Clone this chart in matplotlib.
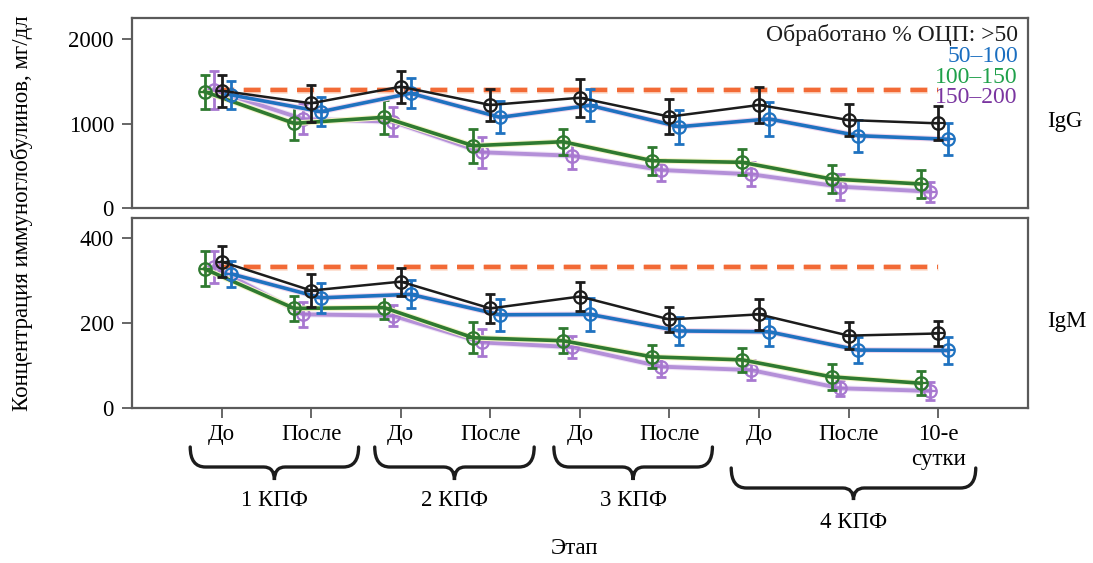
import numpy as np
import matplotlib
matplotlib.use("Agg")
import matplotlib.pyplot as plt
import matplotlib.patheffects as pe
from matplotlib.path import Path
from matplotlib.patches import PathPatch
from matplotlib.transforms import blended_transform_factory

plt.rcParams["font.family"] = ["Liberation Serif", "DejaVu Serif"]

# stages on the x axis
stage_labels = ["До", "После", "До", "После", "До", "После", "До", "После", "10-е\nсутки"]
stage_x = np.arange(1, 10)

# series: processed % of circulating plasma volume
series_names = [">50", "50–100", "100–150", "150–200"]

igg_gt50 = [1388, 1240, 1436, 1220, 1305, 1082, 1220, 1042, 1003]
igg_50_100 = [1338, 1141, 1358, 1074, 1215, 963, 1055, 857, 815]
igg_100_150 = [1377, 1003, 1074, 739, 786, 562, 543, 346, 287]
igg_150_200 = [1397, 1054, 1023, 661, 621, 452, 402, 255, 196]

igg_err_gt50 = [190, 220, 190, 190, 225, 210, 210, 190, 200]
igg_err_50_100 = [170, 175, 175, 190, 190, 200, 200, 190, 190]
igg_err_100_150 = [200, 200, 200, 200, 155, 165, 155, 165, 165]
igg_err_150_200 = [230, 175, 175, 180, 155, 130, 140, 155, 120]

igm_gt50 = [345, 277, 298, 235, 263, 209, 221, 171, 176]
igm_50_100 = [316, 260, 268, 220, 221, 182, 180, 137, 136]
igm_100_150 = [328, 235, 237, 166, 159, 121, 114, 74, 59]
igm_150_200 = [333, 221, 218, 155, 144, 98, 90, 47, 41]

igm_err_gt50 = [36, 39, 33, 35, 35, 30, 36, 32, 29]
igm_err_50_100 = [31, 35, 33, 38, 38, 32, 33, 31, 31]
igm_err_100_150 = [41, 30, 28, 36, 29, 27, 28, 31, 28]
igm_err_150_200 = [38, 30, 25, 31, 26, 24, 24, 19, 21]

igg_ref = 1400
igm_ref = 333

groups = ["1 КПФ", "2 КПФ", "3 КПФ", "4 КПФ"]
group_spans = [(0.65, 2.53), (2.71, 4.49), (4.71, 6.48), (6.69, 9.42)]

# styles: (colour, line colour, halo, x offset, linewidth, zorder)
styles = [
    ("#1c1c1c", "#1c1c1c", None, 0.0, 1.8, 8),
    ("#1f72c0", "#1f72c0", "#f0d4ec", 0.11, 2.6, 7),
    ("#2f7a30", "#2f7a30", "#f4f4c8", -0.19, 2.6, 6),
    ("#a878d0", "#b490d8", "#efe2f6", -0.09, 2.8, 5),
]
legend_colors = ["#1c1c1c", "#1a6ec0", "#1fa04a", "#7a35a0"]

W, H = 1093, 563
fig = plt.figure(figsize=(W / 100, H / 100), dpi=100)
ax1 = fig.add_axes([132 / W, 1 - 208.3 / H, 895.7 / W, 190.3 / H])
ax2 = fig.add_axes([132 / W, 1 - 408.3 / H, 895.7 / W, 190 / H])

spine_col = "#5a5a5a"
fs = 16.5


def draw_panel(ax, data, errs, ref):
    ax.hlines(ref, 0.95, 9.0, colors="#f26a36", lw=3.2,
              linestyles=(0, (3.8, 2.2)), zorder=2,
              path_effects=[pe.Stroke(linewidth=5, foreground="#fde2d4"), pe.Normal()])
    for vals, err, st in zip(data, errs, styles):
        col, lcol, halo, dx, lw, z = st
        xs = stage_x + dx
        peff = [pe.Stroke(linewidth=lw + 1.5, foreground=halo), pe.Normal()] if halo else None
        ax.plot(xs, vals, color=lcol, lw=lw, zorder=z, path_effects=peff)
        ax.errorbar(xs, vals, yerr=err, fmt="none", ecolor=col, elinewidth=2.0,
                    capsize=3.5, capthick=2.0, zorder=z)
        ax.plot(xs, vals, "o", ms=9, mfc="none", mec=col, mew=1.6, zorder=z + 0.1)
        ax.plot(xs, vals, "_", ms=9, mec=col, mew=1.6, zorder=z + 0.1)
    for s in ax.spines.values():
        s.set_color(spine_col)
        s.set_linewidth(1.6)
    ax.set_xlim(0, 10)
    ax.tick_params(axis="y", direction="out", length=7, width=1.3, color=spine_col,
                   labelsize=fs, pad=6)


draw_panel(ax1, [igg_gt50, igg_50_100, igg_100_150, igg_150_200],
           [igg_err_gt50, igg_err_50_100, igg_err_100_150, igg_err_150_200], igg_ref)
ax1.set_ylim(0, 2247)
ax1.set_yticks([0, 1000, 2000])
ax1.set_xticks([])

draw_panel(ax2, [igm_gt50, igm_50_100, igm_100_150, igm_150_200],
           [igm_err_gt50, igm_err_50_100, igm_err_100_150, igm_err_150_200], igm_ref)
ax2.set_ylim(0, 447)
ax2.set_yticks([0, 200, 400])
ax2.set_xticks(stage_x)
ax2.set_xticklabels(stage_labels, fontsize=fs, linespacing=1.25)
ax2.tick_params(axis="x", direction="out", length=7, width=1.3, color=spine_col, pad=4)

# legend text in the top panel
legend_y = [0.881, 0.770, 0.657, 0.552]
for i, (name, c) in enumerate(zip(series_names, legend_colors)):
    txt = "Обработано % ОЦП: " + name if i == 0 else name
    ax1.text(0.989, legend_y[i], txt, transform=ax1.transAxes, ha="right",
             va="baseline", color=c, fontsize=fs + 0.5, zorder=10)

# panel names
ax1.text(1047 / W, 1 - 122 / H, "IgG", transform=fig.transFigure, ha="left",
         va="center", fontsize=fs)
ax2.text(1047 / W, 1 - 322 / H, "IgM", transform=fig.transFigure, ha="left",
         va="center", fontsize=fs)

# braces under the stage labels
tr = blended_transform_factory(ax2.transData, fig.transFigure)


def brace(x0, x1, ytop, ymid, ytip):
    xc = (x0 + x1) / 2
    r = 0.17
    r2 = 0.12
    yt, ym, yp = 1 - ytop / H, 1 - ymid / H, 1 - ytip / H
    verts = [(x0, yt), (x0, ym), (x0 + r, ym), (xc - r2, ym), (xc, ym), (xc, yp),
             (xc, ym), (xc + r2, ym), (x1 - r, ym), (x1, ym), (x1, yt)]
    codes = [Path.MOVETO, Path.CURVE3, Path.CURVE3, Path.LINETO, Path.CURVE3, Path.CURVE3,
             Path.CURVE3, Path.CURVE3, Path.LINETO, Path.CURVE3, Path.CURVE3]
    p = PathPatch(Path(verts, codes), transform=tr, fill=False, lw=2.4,
                  edgecolor="#1c1c1c", clip_on=False, capstyle="round")
    ax2.add_patch(p)
    return xc


for i, (g, (a, b)) in enumerate(zip(groups, group_spans)):
    if i < 3:
        xc = brace(a, b, 447, 467, 480)
        ax2.text(xc, 1 - 501 / H, g, transform=tr, ha="center", va="center", fontsize=fs)
    else:
        xc = brace(a, b, 468, 488, 500)
        ax2.text(xc, 1 - 522 / H, g, transform=tr, ha="center", va="center", fontsize=fs)

fig.text(575 / W, 1 - 549 / H, "Этап", ha="center", va="center", fontsize=fs)
fig.text(22 / W, 1 - 213 / H, "Концентрация иммуноглобулинов, мг/дл", rotation=90,
         ha="center", va="center", fontsize=fs)

fig.savefig("out.png", dpi=100)
